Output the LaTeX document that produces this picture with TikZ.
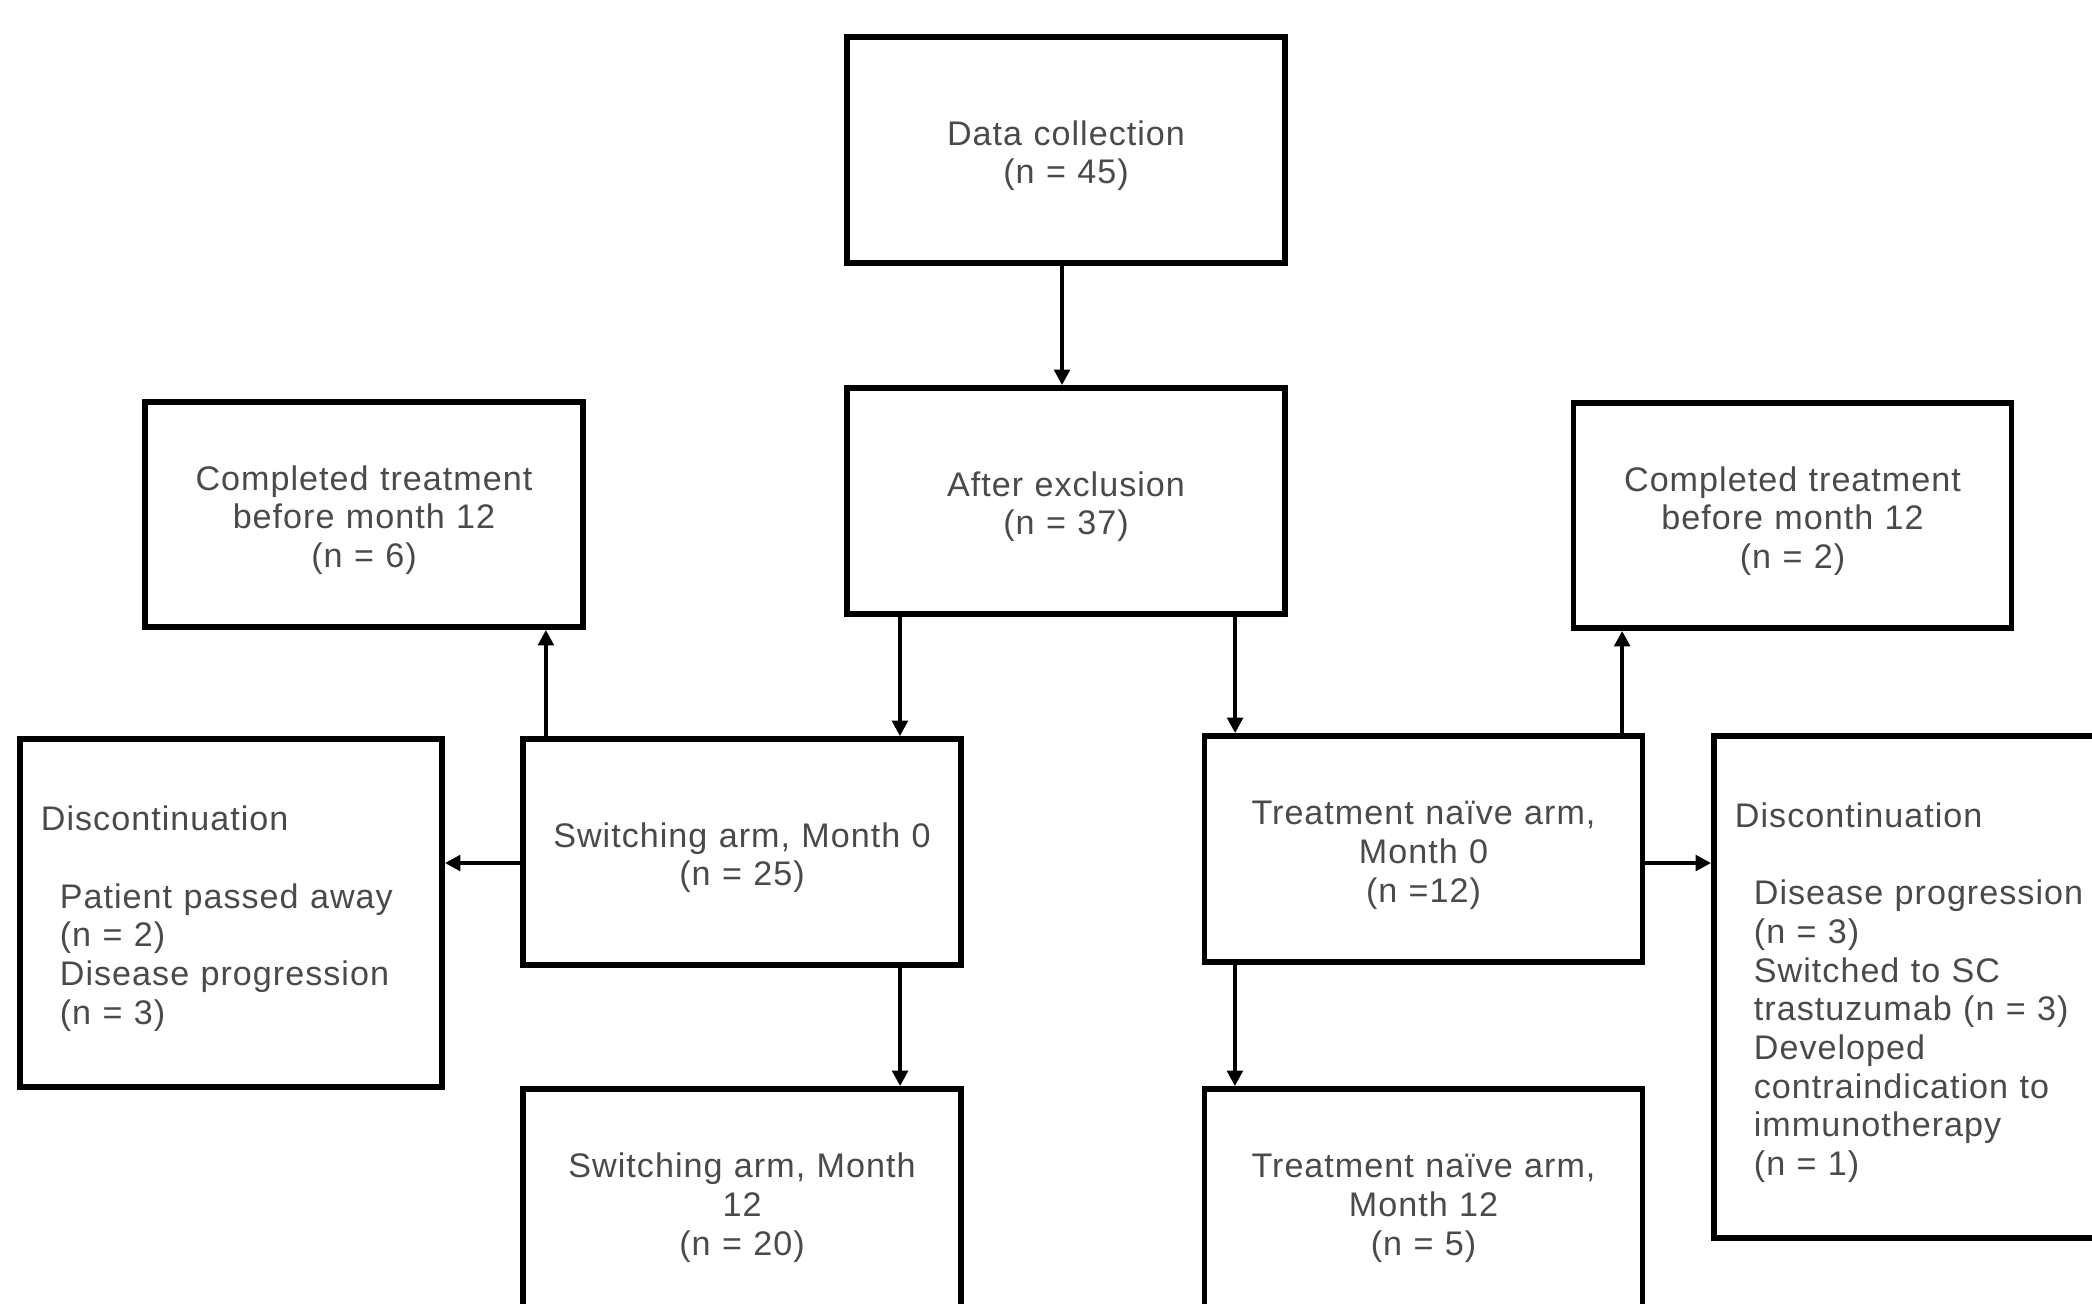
\documentclass[tikz,border=0pt]{standalone}
\usepackage{fontspec}
\setmainfont{Liberation Sans}[LetterSpace=3]
\usetikzlibrary{arrows.meta}
\definecolor{txt}{HTML}{4A4A4A}
\newcommand\myind{\hspace*{0.19cm}}
\begin{document}
\begin{tikzpicture}[x=0.01cm,y=-0.01cm,
  box/.style={draw=black, line width=1.6pt, minimum width=4.38cm, minimum height=2.26cm,
    inner sep=0pt, align=center, text width=4.2cm, text=txt, font=\fontsize{9.7}{11}\selectfont,
    execute at begin node={\rule{0pt}{10.2pt}}},
  listbox/.style={box, align=left, minimum width=4.22cm, text width=3.80cm},
  arr/.style={line width=1.3pt, -{Triangle[length=4.4pt,width=4.4pt]}}
]
\useasboundingbox (0,0) rectangle (2092,1303);
\fill[white] (0,0) rectangle (2092,1303);

\node[box] (dc) at (1066,150) {Data collection\\(n = 45)};
\node[box] (ae) at (1066,501) {After exclusion\\(n = 37)};
\node[box, minimum height=2.25cm] (cl) at (364,514.5) {Completed treatment\\before month 12\\(n = 6)};
\node[box, minimum height=2.25cm] (cr) at (1792.5,515.5) {Completed treatment\\before month 12\\(n = 2)};
\node[box] (sw0) at (742,852) {Switching arm, Month 0\\(n = 25)};
\node[box] (tn0) at (1423.5,849) {Treatment na\"ive arm,\\Month 0\\(n =12)};
\node[box] (sw12) at (742,1202) {Switching arm, Month\\12\\(n = 20)};
\node[box] (tn12) at (1423.5,1202) {Treatment na\"ive arm,\\Month 12\\(n = 5)};
\node[listbox, minimum height=3.48cm] (dl) at (231,913)
  {Discontinuation\\[11pt]
   \myind Patient passed away\\
   \myind(n = 2)\\
   \myind Disease progression\\
   \myind(n = 3)};
\node[listbox, minimum height=5.02cm] (dr) at (1925,987)
  {Discontinuation\\[11pt]
   \myind Disease progression\\
   \myind(n = 3)\\
   \myind Switched to SC\\
   \myind trastuzumab (n = 3)\\
   \myind Developed\\
   \myind contraindication to\\
   \myind immunotherapy\\
   \myind(n = 1)};

% connectors
\coordinate (a1) at ([xshift=-0.04cm]dc.south);
\draw[arr] (a1) -- (a1 |- ae.north);
\coordinate (a2) at ([xshift=-1.66cm]ae.south);
\draw[arr] (a2) -- (a2 |- sw0.north);
\coordinate (a3) at ([xshift=1.69cm]ae.south);
\draw[arr] (a3) -- (a3 |- tn0.north);
\coordinate (a4) at ([xshift=-1.96cm]sw0.north);
\draw[arr] (a4) -- (a4 |- cl.south);
\coordinate (a5) at ([xshift=1.985cm]tn0.north);
\draw[arr] (a5) -- (a5 |- cr.south);
\coordinate (a6) at ([yshift=-0.11cm]sw0.west);
\draw[arr] (a6) -- (a6 -| dl.east);
\coordinate (a7) at ([yshift=-0.14cm]tn0.east);
\draw[arr] (a7) -- (a7 -| dr.west);
\coordinate (a8) at ([xshift=1.58cm]sw0.south);
\draw[arr] (a8) -- (a8 |- sw12.north);
\coordinate (a9) at ([xshift=-1.885cm]tn0.south);
\draw[arr] (a9) -- (a9 |- tn12.north);
\end{tikzpicture}
\end{document}
